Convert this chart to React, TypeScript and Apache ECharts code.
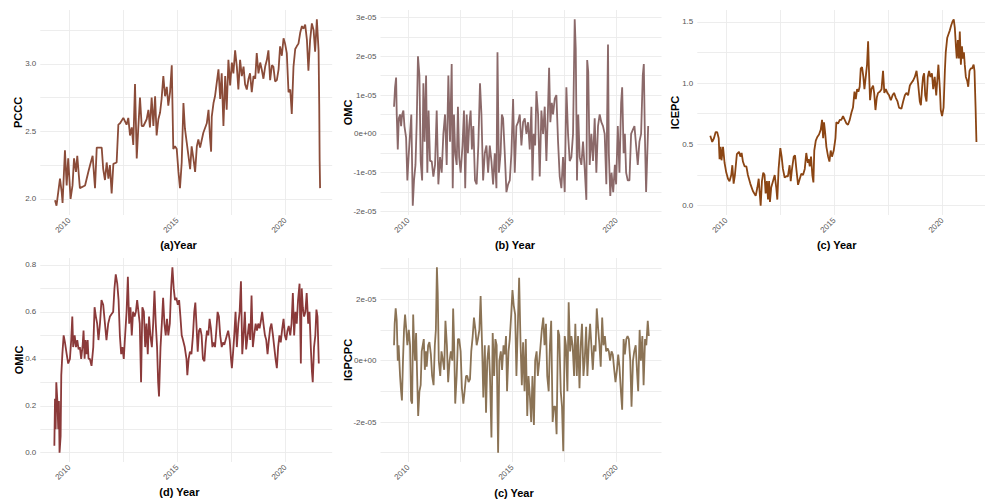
import React, { useEffect, useRef } from "react";
import * as echarts from "echarts";

// ---------- axis ticks ----------
const yearLabels = [2010, 2015, 2020];
const yearGrid = [2010, 2012.5, 2015, 2017.5, 2020];
const X_MIN = 2008.66;
const X_MAX = 2022.16;

const pcccLabels = [2.0, 2.5, 3.0];
const pcccGrid = [2.0, 2.25, 2.5, 2.75, 3.0, 3.25];
const omcLabels = [-2e-5, -1e-5, 0, 1e-5, 2e-5, 3e-5];
const omcGrid = [-2e-5, -1.5e-5, -1e-5, -0.5e-5, 0, 0.5e-5, 1e-5, 1.5e-5, 2e-5, 2.5e-5, 3e-5];
const icepcLabels = [0, 0.5, 1.0, 1.5];
const icepcGrid = [0, 0.25, 0.5, 0.75, 1.0, 1.25, 1.5];
const omicLabels = [0, 0.2, 0.4, 0.6, 0.8];
const omicGrid = [0, 0.1, 0.2, 0.3, 0.4, 0.5, 0.6, 0.7, 0.8];
const igpcpcLabels = [-2e-5, 0, 2e-5];
const igpcpcGrid = [-3e-5, -2e-5, -1e-5, 0, 1e-5, 2e-5, 3e-5];

// ---------- series: [year, value] ----------
const pccc: [number, number][] = [
  [2009.34,1.99],[2009.41,1.95],[2009.57,2.15],[2009.65,2.05],[2009.69,1.97],[2009.80,2.36],[2009.88,2.10],[2009.95,2.30],[2010.06,2.00],[2010.15,2.10],[2010.22,2.30],[2010.31,2.20],[2010.37,2.32],[2010.49,2.08],[2010.73,2.10],[2010.88,2.20],[2010.96,2.25],[2011.08,2.32],[2011.19,2.08],[2011.27,2.38],[2011.42,2.38],[2011.50,2.38],[2011.57,2.22],[2011.65,2.14],[2011.73,2.27],[2011.81,2.15],[2011.88,2.25],[2011.96,2.04],[2012.04,2.26],[2012.19,2.27],[2012.27,2.55],[2012.35,2.56],[2012.50,2.60],[2012.65,2.55],[2012.73,2.60],[2012.81,2.47],[2012.89,2.53],[2012.96,2.40],[2013.04,2.85],[2013.12,2.30],[2013.19,2.52],[2013.27,2.75],[2013.35,2.54],[2013.43,2.54],[2013.58,2.59],[2013.66,2.66],[2013.73,2.53],[2013.81,2.75],[2013.89,2.54],[2013.97,2.76],[2014.04,2.47],[2014.12,2.59],[2014.20,2.64],[2014.27,2.74],[2014.35,2.91],[2014.43,2.76],[2014.51,2.83],[2014.58,2.69],[2014.66,2.79],[2014.74,2.99],[2014.81,2.37],[2014.89,2.39],[2014.97,2.37],[2015.05,2.20],[2015.12,2.08],[2015.20,2.27],[2015.28,2.71],[2015.35,2.52],[2015.43,2.42],[2015.51,2.32],[2015.59,2.22],[2015.66,2.39],[2015.74,2.30],[2015.82,2.20],[2015.90,2.39],[2015.97,2.44],[2016.05,2.38],[2016.20,2.49],[2016.36,2.56],[2016.44,2.66],[2016.51,2.45],[2016.56,2.35],[2016.59,2.61],[2016.67,2.71],[2016.74,2.76],[2016.90,2.96],[2016.98,2.74],[2017.05,2.93],[2017.13,2.54],[2017.21,2.91],[2017.28,2.66],[2017.36,3.03],[2017.44,2.84],[2017.52,3.01],[2017.59,2.93],[2017.67,3.10],[2017.75,2.98],[2017.82,2.81],[2017.90,3.03],[2017.98,2.91],[2018.06,2.98],[2018.13,2.85],[2018.21,2.81],[2018.29,2.89],[2018.36,2.93],[2018.44,2.79],[2018.52,2.91],[2018.60,2.89],[2018.67,3.08],[2018.75,2.93],[2018.83,3.01],[2018.90,2.96],[2018.98,2.89],[2019.06,2.98],[2019.14,3.03],[2019.21,3.10],[2019.29,2.88],[2019.37,2.99],[2019.44,2.98],[2019.52,2.87],[2019.60,2.88],[2019.68,2.96],[2019.75,3.13],[2019.83,3.06],[2019.91,3.19],[2019.98,3.15],[2020.06,3.08],[2020.14,2.79],[2020.22,2.81],[2020.29,2.63],[2020.37,2.98],[2020.45,3.11],[2020.52,3.13],[2020.60,3.15],[2020.68,3.23],[2020.76,3.28],[2020.83,3.26],[2020.91,3.29],[2020.99,3.18],[2021.06,2.95],[2021.14,3.18],[2021.22,3.30],[2021.30,3.25],[2021.37,3.09],[2021.45,3.33],[2021.53,3.10],[2021.56,2.70],[2021.58,2.28],[2021.60,2.08]
];

// OMC, in units of 1e-5
const omcE5: [number, number][] = [
  [2009.31,0.7],[2009.36,1.2],[2009.41,1.45],[2009.44,0.5],[2009.49,-0.4],[2009.54,0.4],[2009.60,0.5],[2009.65,0.2],[2009.70,0.5],[2009.76,0.6],[2009.81,0.2],[2009.89,-0.1],[2009.95,-1.2],[2010.02,-0.5],[2010.08,0.0],[2010.14,0.5],[2010.21,-1.85],[2010.27,-1.2],[2010.34,-0.8],[2010.40,0.3],[2010.46,2.0],[2010.53,1.5],[2010.59,-0.7],[2010.66,-1.2],[2010.72,1.3],[2010.78,-0.2],[2010.85,1.5],[2010.91,-1.0],[2010.97,0.6],[2011.04,-0.7],[2011.12,-0.7],[2011.20,-1.1],[2011.28,-0.8],[2011.36,0.6],[2011.44,-1.3],[2011.52,-0.6],[2011.60,-1.0],[2011.68,0.0],[2011.76,0.5],[2011.84,-0.8],[2011.92,1.5],[2012.00,-0.2],[2012.08,1.8],[2012.13,-1.4],[2012.19,0.5],[2012.25,-0.5],[2012.32,-0.8],[2012.38,0.7],[2012.44,-0.6],[2012.51,-1.0],[2012.60,-0.3],[2012.67,0.6],[2012.73,-1.4],[2012.80,0.5],[2012.86,-0.5],[2012.92,0.2],[2012.99,0.6],[2013.05,-0.4],[2013.12,0.2],[2013.20,-1.2],[2013.28,-1.3],[2013.36,-0.3],[2013.44,1.3],[2013.51,0.5],[2013.59,-1.2],[2013.67,-0.5],[2013.75,-0.3],[2013.83,-1.0],[2013.91,-0.3],[2013.99,-0.7],[2014.07,-1.3],[2014.15,-0.5],[2014.23,-1.4],[2014.28,2.1],[2014.35,-1.0],[2014.43,-0.5],[2014.49,0.5],[2014.55,0.4],[2014.63,-0.5],[2014.71,-1.5],[2014.79,-1.3],[2014.87,-1.2],[2014.95,-0.5],[2015.03,0.9],[2015.11,-1.0],[2015.19,0.2],[2015.27,0.3],[2015.35,0.5],[2015.43,-0.3],[2015.51,0.3],[2015.59,0.4],[2015.67,0.0],[2015.75,0.3],[2015.83,-0.4],[2015.91,0.7],[2015.96,-1.2],[2016.02,0.0],[2016.09,-0.3],[2016.15,1.1],[2016.23,0.5],[2016.31,-1.1],[2016.39,0.6],[2016.47,0.0],[2016.55,0.7],[2016.63,-0.7],[2016.71,0.7],[2016.76,1.7],[2016.82,0.3],[2016.89,0.8],[2016.95,0.5],[2017.03,0.9],[2017.11,1.0],[2017.19,-0.2],[2017.27,-1.1],[2017.35,-1.4],[2017.43,-0.6],[2017.51,-1.5],[2017.59,1.2],[2017.67,0.0],[2017.75,-0.7],[2017.83,-0.6],[2017.91,0.0],[2017.99,2.95],[2018.04,2.2],[2018.10,-1.2],[2018.16,0.5],[2018.23,-0.6],[2018.31,-0.8],[2018.39,-0.2],[2018.47,-0.9],[2018.55,-1.7],[2018.59,1.9],[2018.64,1.6],[2018.71,-0.8],[2018.79,0.0],[2018.87,-0.7],[2018.95,0.4],[2019.03,-1.0],[2019.11,0.2],[2019.19,0.5],[2019.27,0.3],[2019.35,0.2],[2019.43,0.0],[2019.51,-1.3],[2019.59,2.3],[2019.63,-0.5],[2019.70,-1.6],[2019.76,-1.0],[2019.84,-1.5],[2019.92,-0.8],[2019.98,-1.3],[2020.06,0.2],[2020.14,-1.0],[2020.22,0.8],[2020.27,1.2],[2020.34,-0.5],[2020.40,0.0],[2020.46,-1.0],[2020.54,-1.2],[2020.62,-1.2],[2020.70,0.0],[2020.78,0.1],[2020.86,0.2],[2020.94,-0.3],[2021.02,-0.8],[2021.10,-0.2],[2021.18,0.0],[2021.26,1.5],[2021.31,1.8],[2021.36,0.0],[2021.42,-1.5],[2021.52,0.2]
];

const icepc: [number, number][] = [
  [2009.26,0.57],[2009.35,0.52],[2009.43,0.55],[2009.51,0.60],[2009.58,0.60],[2009.65,0.55],[2009.69,0.38],[2009.74,0.48],[2009.78,0.37],[2009.85,0.48],[2009.92,0.35],[2010.00,0.27],[2010.08,0.22],[2010.15,0.20],[2010.23,0.25],[2010.28,0.33],[2010.34,0.18],[2010.40,0.25],[2010.49,0.42],[2010.59,0.44],[2010.65,0.40],[2010.71,0.43],[2010.77,0.36],[2010.85,0.32],[2010.93,0.32],[2011.00,0.25],[2011.11,0.18],[2011.23,0.12],[2011.36,0.08],[2011.44,0.15],[2011.50,0.22],[2011.54,0.12],[2011.59,0.00],[2011.65,0.20],[2011.71,0.27],[2011.77,0.25],[2011.82,0.10],[2011.88,0.20],[2011.93,0.05],[2011.98,0.20],[2012.02,0.03],[2012.08,0.15],[2012.16,0.20],[2012.24,0.25],[2012.31,0.15],[2012.36,0.05],[2012.42,0.30],[2012.50,0.47],[2012.56,0.40],[2012.62,0.30],[2012.70,0.23],[2012.78,0.24],[2012.85,0.24],[2012.93,0.33],[2012.98,0.20],[2013.04,0.30],[2013.12,0.40],[2013.18,0.41],[2013.24,0.30],[2013.32,0.17],[2013.40,0.22],[2013.47,0.26],[2013.55,0.25],[2013.63,0.30],[2013.70,0.43],[2013.77,0.35],[2013.81,0.38],[2013.86,0.32],[2013.92,0.40],[2013.98,0.25],[2014.03,0.19],[2014.07,0.45],[2014.14,0.53],[2014.21,0.56],[2014.29,0.58],[2014.37,0.62],[2014.43,0.70],[2014.48,0.55],[2014.52,0.68],[2014.57,0.60],[2014.63,0.48],[2014.71,0.40],[2014.77,0.36],[2014.83,0.45],[2014.89,0.40],[2014.97,0.45],[2015.05,0.55],[2015.09,0.68],[2015.17,0.67],[2015.25,0.70],[2015.32,0.70],[2015.40,0.73],[2015.48,0.70],[2015.56,0.67],[2015.63,0.66],[2015.71,0.70],[2015.79,0.76],[2015.86,0.80],[2015.93,0.93],[2015.99,0.87],[2016.05,0.95],[2016.11,0.93],[2016.17,0.97],[2016.22,1.12],[2016.28,1.13],[2016.34,1.05],[2016.39,0.95],[2016.45,1.05],[2016.51,1.15],[2016.56,1.34],[2016.60,1.10],[2016.65,0.86],[2016.71,0.95],[2016.79,0.98],[2016.84,0.92],[2016.90,0.78],[2016.96,0.88],[2017.02,0.92],[2017.10,0.93],[2017.18,0.95],[2017.25,1.10],[2017.31,0.92],[2017.38,0.95],[2017.45,0.92],[2017.53,0.90],[2017.61,0.86],[2017.69,0.90],[2017.76,0.92],[2017.84,0.88],[2017.92,0.85],[2017.99,0.80],[2018.10,0.79],[2018.18,0.85],[2018.26,0.90],[2018.33,0.92],[2018.41,0.90],[2018.49,0.98],[2018.56,1.00],[2018.64,1.02],[2018.72,1.05],[2018.80,1.10],[2018.87,1.00],[2018.95,0.85],[2019.00,0.82],[2019.06,0.97],[2019.10,1.05],[2019.15,1.08],[2019.20,0.90],[2019.26,0.85],[2019.32,1.05],[2019.38,1.10],[2019.44,1.05],[2019.51,1.08],[2019.57,0.95],[2019.64,1.05],[2019.71,0.90],[2019.77,1.05],[2019.81,1.15],[2019.88,0.95],[2019.92,0.78],[2019.98,0.73],[2020.05,0.80],[2020.11,1.10],[2020.15,1.25],[2020.22,1.37],[2020.28,1.40],[2020.34,1.43],[2020.40,1.47],[2020.46,1.50],[2020.52,1.52],[2020.57,1.45],[2020.62,1.30],[2020.66,1.20],[2020.71,1.35],[2020.76,1.20],[2020.80,1.42],[2020.85,1.15],[2020.90,1.30],[2020.94,1.20],[2020.99,1.25],[2021.03,1.15],[2021.08,1.05],[2021.14,1.02],[2021.19,0.97],[2021.25,1.10],[2021.31,1.12],[2021.37,1.12],[2021.44,1.15],[2021.48,1.10],[2021.53,0.80],[2021.57,0.52]
];

const omic: [number, number][] = [
  [2009.31,0.03],[2009.34,0.23],[2009.37,0.10],[2009.40,0.30],[2009.45,0.22],[2009.49,0.10],[2009.52,0.22],[2009.55,0.00],[2009.60,0.07],[2009.63,0.33],[2009.68,0.42],[2009.74,0.50],[2009.80,0.47],[2009.88,0.42],[2009.95,0.38],[2010.03,0.40],[2010.09,0.48],[2010.14,0.58],[2010.18,0.45],[2010.25,0.50],[2010.31,0.45],[2010.37,0.48],[2010.43,0.44],[2010.49,0.45],[2010.55,0.40],[2010.62,0.46],[2010.66,0.52],[2010.71,0.40],[2010.75,0.48],[2010.80,0.42],[2010.85,0.48],[2010.89,0.40],[2010.95,0.40],[2011.03,0.37],[2011.11,0.45],[2011.17,0.62],[2011.23,0.58],[2011.29,0.55],[2011.35,0.48],[2011.42,0.55],[2011.49,0.65],[2011.57,0.63],[2011.65,0.55],[2011.72,0.48],[2011.80,0.55],[2011.88,0.58],[2011.95,0.59],[2012.03,0.60],[2012.09,0.70],[2012.15,0.76],[2012.22,0.72],[2012.28,0.65],[2012.34,0.50],[2012.40,0.42],[2012.46,0.45],[2012.52,0.40],[2012.57,0.48],[2012.65,0.60],[2012.71,0.75],[2012.77,0.55],[2012.83,0.62],[2012.89,0.50],[2012.95,0.60],[2013.02,0.58],[2013.08,0.60],[2013.14,0.65],[2013.20,0.60],[2013.26,0.55],[2013.32,0.30],[2013.38,0.62],[2013.45,0.60],[2013.51,0.45],[2013.57,0.55],[2013.63,0.42],[2013.69,0.58],[2013.75,0.50],[2013.82,0.45],[2013.88,0.55],[2013.94,0.69],[2014.00,0.55],[2014.06,0.45],[2014.11,0.30],[2014.15,0.24],[2014.22,0.45],[2014.28,0.55],[2014.34,0.66],[2014.40,0.55],[2014.46,0.50],[2014.52,0.57],[2014.58,0.50],[2014.65,0.55],[2014.71,0.70],[2014.77,0.79],[2014.83,0.70],[2014.89,0.65],[2014.95,0.66],[2015.02,0.63],[2015.08,0.65],[2015.14,0.58],[2015.20,0.50],[2015.26,0.48],[2015.34,0.45],[2015.42,0.40],[2015.46,0.33],[2015.52,0.40],[2015.58,0.43],[2015.65,0.42],[2015.72,0.50],[2015.78,0.60],[2015.83,0.64],[2015.88,0.55],[2015.94,0.43],[2016.00,0.52],[2016.06,0.53],[2016.12,0.50],[2016.18,0.40],[2016.25,0.39],[2016.31,0.47],[2016.37,0.52],[2016.43,0.50],[2016.49,0.57],[2016.55,0.53],[2016.62,0.45],[2016.68,0.47],[2016.74,0.45],[2016.80,0.52],[2016.86,0.60],[2016.92,0.58],[2016.98,0.50],[2017.05,0.45],[2017.11,0.47],[2017.17,0.46],[2017.23,0.48],[2017.29,0.50],[2017.35,0.52],[2017.42,0.48],[2017.48,0.40],[2017.52,0.36],[2017.57,0.42],[2017.63,0.50],[2017.69,0.60],[2017.75,0.45],[2017.82,0.55],[2017.88,0.60],[2017.94,0.73],[2018.00,0.42],[2018.06,0.50],[2018.12,0.60],[2018.18,0.44],[2018.25,0.50],[2018.31,0.55],[2018.37,0.48],[2018.43,0.67],[2018.49,0.45],[2018.55,0.50],[2018.62,0.55],[2018.68,0.52],[2018.74,0.55],[2018.80,0.53],[2018.86,0.56],[2018.92,0.60],[2018.98,0.55],[2019.05,0.50],[2019.11,0.48],[2019.17,0.42],[2019.23,0.48],[2019.29,0.53],[2019.35,0.55],[2019.42,0.50],[2019.48,0.45],[2019.54,0.40],[2019.60,0.36],[2019.66,0.45],[2019.72,0.50],[2019.78,0.47],[2019.85,0.53],[2019.91,0.57],[2019.97,0.50],[2020.03,0.48],[2020.09,0.52],[2020.15,0.54],[2020.22,0.50],[2020.28,0.55],[2020.34,0.68],[2020.40,0.50],[2020.46,0.60],[2020.52,0.55],[2020.58,0.65],[2020.65,0.72],[2020.71,0.38],[2020.75,0.70],[2020.80,0.62],[2020.86,0.58],[2020.92,0.60],[2020.98,0.68],[2021.05,0.55],[2021.11,0.60],[2021.17,0.45],[2021.22,0.35],[2021.26,0.30],[2021.32,0.45],[2021.38,0.50],[2021.43,0.61],[2021.48,0.58],[2021.54,0.38]
];

// IGPCPC, in units of 1e-5
const igpcpcE5: [number, number][] = [
  [2009.31,0.5],[2009.34,1.2],[2009.39,1.7],[2009.44,1.3],[2009.49,0.0],[2009.53,0.5],[2009.60,-0.5],[2009.65,-1.0],[2009.69,-1.3],[2009.74,0.0],[2009.79,1.0],[2009.84,1.5],[2009.90,1.0],[2009.95,0.5],[2010.02,1.0],[2010.08,0.5],[2010.13,-1.3],[2010.18,-1.4],[2010.23,1.5],[2010.27,0.6],[2010.32,0.0],[2010.37,0.9],[2010.42,-0.5],[2010.47,-1.8],[2010.53,-1.0],[2010.59,-0.8],[2010.64,0.3],[2010.69,0.5],[2010.74,0.7],[2010.79,-0.3],[2010.84,0.3],[2010.88,-0.2],[2010.95,0.5],[2011.01,0.6],[2011.08,0.2],[2011.14,-0.5],[2011.21,-0.8],[2011.27,0.5],[2011.32,1.0],[2011.37,3.04],[2011.41,2.2],[2011.46,0.0],[2011.53,-0.5],[2011.59,0.3],[2011.66,0.0],[2011.72,-0.3],[2011.78,1.3],[2011.85,0.5],[2011.91,-0.7],[2011.98,0.0],[2012.04,0.3],[2012.11,0.0],[2012.15,1.7],[2012.20,0.5],[2012.25,-1.4],[2012.32,-0.5],[2012.38,0.7],[2012.44,0.7],[2012.51,0.3],[2012.57,-0.9],[2012.64,-1.4],[2012.70,-1.0],[2012.77,-0.5],[2012.83,-0.5],[2012.89,-0.7],[2012.96,-0.6],[2013.02,0.3],[2013.09,0.8],[2013.15,1.4],[2013.22,1.0],[2013.28,0.5],[2013.34,0.7],[2013.41,1.0],[2013.47,2.1],[2013.54,0.5],[2013.60,-1.2],[2013.67,0.5],[2013.73,-1.7],[2013.79,0.0],[2013.86,0.5],[2013.92,-0.5],[2013.99,-2.5],[2014.05,0.9],[2014.12,-0.5],[2014.18,0.7],[2014.24,0.5],[2014.31,-3.0],[2014.37,0.0],[2014.44,0.3],[2014.50,-0.3],[2014.57,0.5],[2014.63,0.2],[2014.69,0.8],[2014.74,-1.0],[2014.81,0.3],[2014.87,0.7],[2014.94,1.5],[2015.00,2.3],[2015.06,1.8],[2015.13,1.5],[2015.19,-0.5],[2015.26,1.2],[2015.32,2.7],[2015.39,0.5],[2015.45,-0.8],[2015.51,0.6],[2015.58,-1.0],[2015.64,0.7],[2015.71,-1.8],[2015.77,-0.5],[2015.84,-1.2],[2015.90,-2.0],[2015.96,-0.5],[2016.03,-2.1],[2016.09,0.0],[2016.16,0.3],[2016.22,-0.5],[2016.29,0.0],[2016.35,0.5],[2016.41,1.0],[2016.48,1.4],[2016.54,0.5],[2016.61,1.2],[2016.67,-0.5],[2016.74,-1.0],[2016.80,0.5],[2016.86,1.3],[2016.93,-2.0],[2016.99,-1.5],[2017.06,-1.5],[2017.12,-2.4],[2017.19,1.0],[2017.25,0.8],[2017.32,-1.0],[2017.38,-1.5],[2017.44,-2.95],[2017.51,0.8],[2017.57,0.5],[2017.64,-1.0],[2017.70,1.9],[2017.77,0.3],[2017.83,0.8],[2017.89,0.5],[2017.96,-0.5],[2018.02,1.2],[2018.09,-0.5],[2018.15,0.8],[2018.22,-0.9],[2018.28,0.5],[2018.34,1.2],[2018.41,-0.5],[2018.47,0.0],[2018.54,1.1],[2018.60,-0.5],[2018.67,0.6],[2018.73,1.2],[2018.79,0.5],[2018.86,-0.3],[2018.92,0.5],[2018.99,0.3],[2019.05,1.7],[2019.12,1.0],[2019.18,0.5],[2019.24,-0.2],[2019.31,1.4],[2019.37,0.5],[2019.44,0.8],[2019.50,0.3],[2019.57,0.4],[2019.63,0.3],[2019.69,0.0],[2019.76,0.3],[2019.82,0.2],[2019.89,-0.3],[2019.95,-0.7],[2020.02,-0.3],[2020.08,0.2],[2020.14,-0.2],[2020.21,-1.0],[2020.27,-1.6],[2020.34,0.7],[2020.40,0.2],[2020.47,0.7],[2020.53,0.8],[2020.59,0.7],[2020.66,0.0],[2020.72,-1.5],[2020.79,0.0],[2020.85,0.3],[2020.92,0.5],[2020.98,-0.3],[2021.04,-1.0],[2021.11,1.0],[2021.17,0.0],[2021.24,0.8],[2021.30,-0.8],[2021.37,0.7],[2021.43,0.5],[2021.50,1.3],[2021.55,0.8]
];

const E5 = 1e-5;
const omc: [number, number][] = omcE5.map(([t, v]) => [t, v * E5]);
const igpcpc: [number, number][] = igpcpcE5.map(([t, v]) => [t, v * E5]);

// ---------- helpers ----------
function expandRange(data: [number, number][]): [number, number] {
  let lo = Infinity;
  let hi = -Infinity;
  for (const [, v] of data) {
    if (v < lo) lo = v;
    if (v > hi) hi = v;
  }
  const pad = (hi - lo) * 0.05;
  return [lo - pad, hi + pad];
}

function sci(v: number): string {
  if (Math.abs(v) < 1e-12) return "0e+00";
  const exp = Math.floor(Math.log10(Math.abs(v)) + 1e-9);
  const m = Math.round(v / Math.pow(10, exp));
  const sign = exp < 0 ? "-" : "+";
  return `${m}e${sign}${String(Math.abs(exp)).padStart(2, "0")}`;
}
const one = (v: number) => v.toFixed(1);

const FONT = "'Liberation Sans', Arial, Helvetica, sans-serif";
const LABEL_COLOR = "#555555";
const GRID_COLOR = "#ebebeb";

type Panel = {
  data: [number, number][];
  color: string;
  yName: string;
  xTitle: string;
  yLabels: number[];
  yGrid: number[];
  fmt: (v: number) => string;
  box: { left: number; top: number; width: number; height: number };
  xTitlePos: [number, number];
  yNamePos: [number, number];
};

const panels: Panel[] = [
  { data: pccc, color: "#8B4C39", yName: "PCCC", xTitle: "(a)Year", yLabels: pcccLabels, yGrid: pcccGrid, fmt: one,
    box: { left: 40.3, top: 10, width: 291.9, height: 205 }, xTitlePos: [178.5, 245], yNamePos: [18.3, 112.5] },
  { data: omc, color: "#8B6969", yName: "OMC", xTitle: "(b) Year", yLabels: omcLabels, yGrid: omcGrid, fmt: sci,
    box: { left: 380.5, top: 10, width: 281, height: 205 }, xTitlePos: [515, 245], yNamePos: [347.7, 112.5] },
  { data: icepc, color: "#8B4513", yName: "ICEPC", xTitle: "(c) Year", yLabels: icepcLabels, yGrid: icepcGrid, fmt: one,
    box: { left: 697.3, top: 10, width: 291.9, height: 205 }, xTitlePos: [836.7, 245], yNamePos: [675, 112.5] },
  { data: omic, color: "#8B3A3A", yName: "OMIC", xTitle: "(d) Year", yLabels: omicLabels, yGrid: omicGrid, fmt: one,
    box: { left: 40.3, top: 258, width: 291.9, height: 204 }, xTitlePos: [179.4, 492], yNamePos: [18.7, 360] },
  { data: igpcpc, color: "#8B7355", yName: "IGPCPC", xTitle: "(c) Year", yLabels: igpcpcLabels, yGrid: igpcpcGrid, fmt: sci,
    box: { left: 380.5, top: 258, width: 281, height: 204 }, xTitlePos: [514, 492.5], yNamePos: [348, 360] },
];

function buildOption(): any {
  const grid: any[] = [];
  const xAxis: any[] = [];
  const yAxis: any[] = [];
  const series: any[] = [];
  const graphic: any[] = [];

  panels.forEach((p, i) => {
    grid.push({ ...p.box, containLabel: false, outerBoundsMode: "none" });
    xAxis.push({
      type: "value",
      gridIndex: i,
      min: X_MIN,
      max: X_MAX,
      axisLine: { show: false },
      axisTick: { show: false, customValues: yearGrid },
      splitLine: { show: true, lineStyle: { color: GRID_COLOR, width: 0.9 } },
      axisLabel: {
        customValues: yearLabels,
        rotate: 45,
        margin: 4,
        fontSize: 8,
        color: LABEL_COLOR,
        fontFamily: FONT,
        formatter: (v: number) => String(Math.round(v)),
      },
    });
    const [lo, hi] = expandRange(p.data);
    yAxis.push({
      type: "value",
      gridIndex: i,
      min: lo,
      max: hi,
      axisLine: { show: false },
      axisTick: { show: false, customValues: p.yGrid },
      splitLine: { show: true, lineStyle: { color: GRID_COLOR, width: 0.9 } },
      axisLabel: {
        customValues: p.yLabels,
        margin: 4,
        fontSize: 8,
        color: LABEL_COLOR,
        fontFamily: FONT,
        formatter: (v: number) => p.fmt(v),
      },
    });
    series.push({
      type: "line",
      xAxisIndex: i,
      yAxisIndex: i,
      data: p.data,
      showSymbol: false,
      symbol: "none",
      lineStyle: { color: p.color, width: 1.8 },
      itemStyle: { color: p.color },
      silent: true,
    });
    graphic.push({
      type: "text",
      x: p.xTitlePos[0],
      y: p.xTitlePos[1],
      style: {
        text: p.xTitle,
        fill: "#000",
        font: `bold 11px ${FONT}`,
        textAlign: "center",
        textVerticalAlign: "middle",
      },
    });
    graphic.push({
      type: "text",
      x: p.yNamePos[0],
      y: p.yNamePos[1],
      rotation: Math.PI / 2,
      style: {
        text: p.yName,
        fill: "#000",
        font: `bold 11px ${FONT}`,
        textAlign: "center",
        textVerticalAlign: "middle",
      },
    });
  });

  return {
    animation: false,
    backgroundColor: "#ffffff",
    grid,
    xAxis,
    yAxis,
    series,
    graphic,
  };
}

export default function App() {
  const ref = useRef<HTMLDivElement>(null);
  useEffect(() => {
    if (!ref.current) return;
    const chart = echarts.init(ref.current, undefined, { renderer: "svg" });
    chart.setOption(buildOption());
    return () => chart.dispose();
  }, []);
  return (
    <div
      ref={ref}
      style={{ position: "fixed", left: 0, top: 0, width: 985, height: 499, background: "#fff" }}
    />
  );
}
